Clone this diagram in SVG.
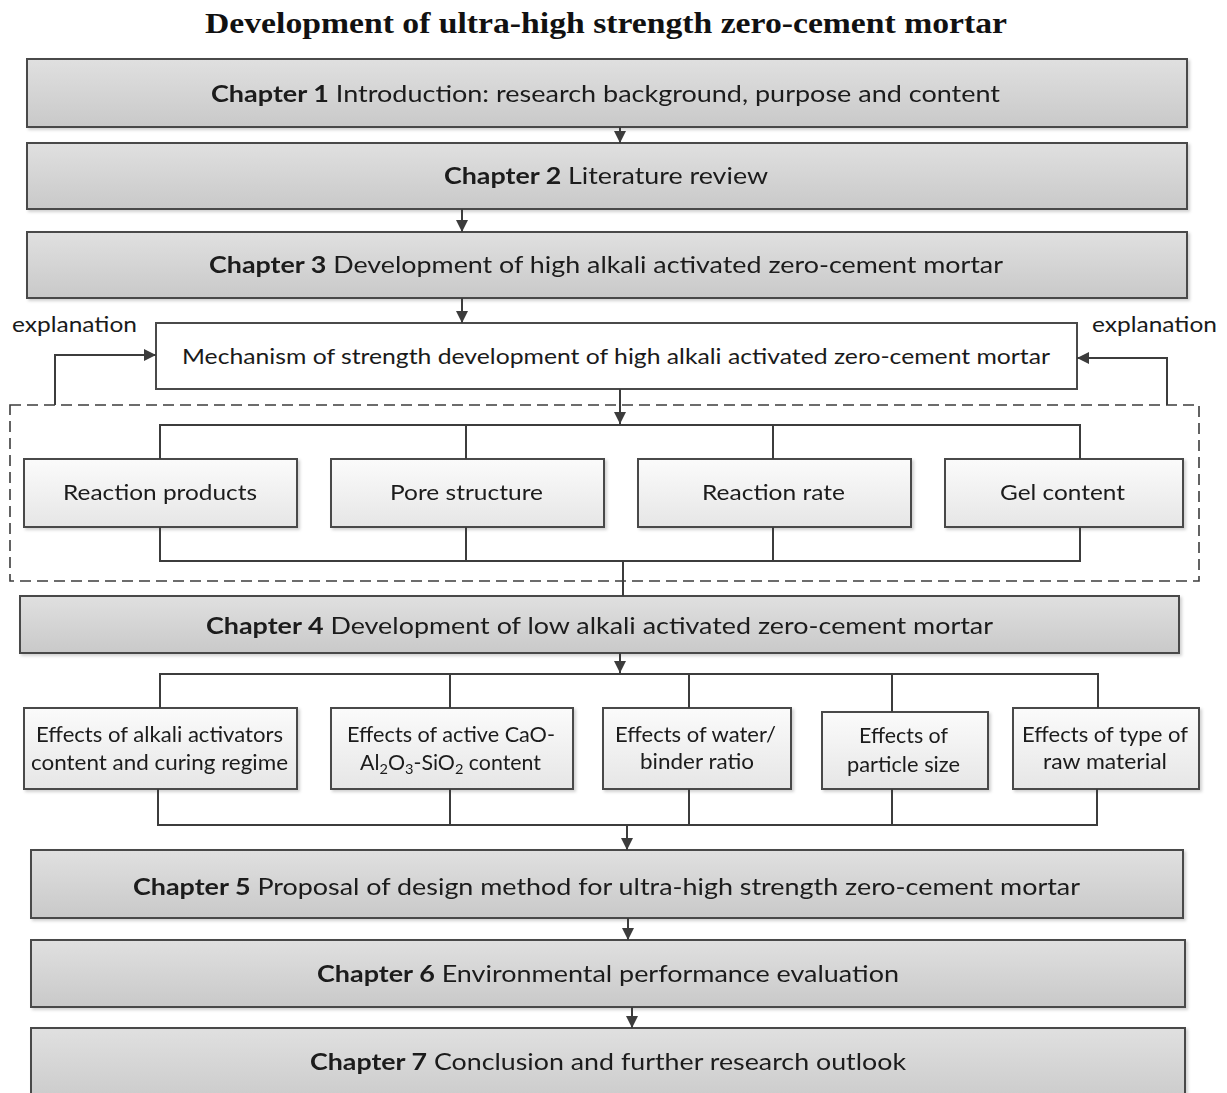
<svg xmlns="http://www.w3.org/2000/svg" width="1227" height="1093" viewBox="0 0 1227 1093">
<style>
.title{font-family:"Liberation Serif","Times New Roman",serif;font-weight:bold;font-size:29px;fill:#111}
.t{font-family:Lato,"Open Sans","Liberation Sans",sans-serif;fill:#1a1a1a}
.ch{font-size:23.5px}
.b{font-weight:bold}
.sm{font-size:20.5px}
.mid{font-size:22px}
.chap{fill:url(#gChap);stroke:#4a4a4a;stroke-width:2}
.box{fill:url(#gBox);stroke:#4a4a4a;stroke-width:2}
.white{fill:#fff;stroke:#4a4a4a;stroke-width:2}
.ln{fill:none;stroke:#3c3c3c;stroke-width:2}
.arr{fill:none;stroke:#3c3c3c;stroke-width:2;marker-end:url(#ah)}
.dash{fill:none;stroke:#3c3c3c;stroke-width:1.6;stroke-dasharray:11 6}
</style>
<defs>
<linearGradient id="gChap" x1="0" y1="0" x2="0" y2="1">
<stop offset="0" stop-color="#e0e0e0"/>
<stop offset="1" stop-color="#c9c9c9"/>
</linearGradient>
<linearGradient id="gBox" x1="0" y1="0" x2="0" y2="1">
<stop offset="0" stop-color="#fbfbfb"/>
<stop offset="1" stop-color="#e6e6e6"/>
</linearGradient>
<filter id="sh" x="-5%" y="-10%" width="110%" height="130%">
<feDropShadow dx="2" dy="2" stdDeviation="1.5" flood-color="#000" flood-opacity="0.18"/>
</filter>
<marker id="ah" viewBox="0 0 10 10" refX="10" refY="5" markerWidth="6" markerHeight="6" markerUnits="strokeWidth" orient="auto">
<path d="M0,0 L10,5 L0,10 z" fill="#3c3c3c"/>
</marker>
</defs>
<rect width="1227" height="1093" fill="#fff"/>

<text class="title" x="606" y="33" text-anchor="middle" textLength="802" lengthAdjust="spacingAndGlyphs">Development of ultra-high strength zero-cement mortar</text>

<g id="ch1" filter="url(#sh)">
<rect class="chap" x="27" y="59" width="1160" height="68"/>
<text class="t ch" x="605.5" y="102" text-anchor="middle" textLength="789" lengthAdjust="spacingAndGlyphs"><tspan class="b">Chapter 1</tspan> Introduction: research background, purpose and content</text>
</g>
<g id="ch2" filter="url(#sh)">
<rect class="chap" x="27" y="143" width="1160" height="66"/>
<text class="t ch" x="606" y="184" text-anchor="middle" textLength="324" lengthAdjust="spacingAndGlyphs"><tspan class="b">Chapter 2</tspan> Literature review</text>
</g>
<g id="ch3" filter="url(#sh)">
<rect class="chap" x="27" y="232" width="1160" height="66"/>
<text class="t ch" x="606" y="273" text-anchor="middle" textLength="794" lengthAdjust="spacingAndGlyphs"><tspan class="b">Chapter 3</tspan> Development of high alkali activated zero-cement mortar</text>
</g>
<g id="mechanism">
<rect class="white" x="156" y="323" width="921" height="66"/>
<text class="t mid" x="616" y="364" text-anchor="middle" textLength="868" lengthAdjust="spacingAndGlyphs">Mechanism of strength development of high alkali activated zero-cement mortar</text>
</g>
<g id="explanation-left">
<text class="t mid" x="12" y="332" textLength="125" lengthAdjust="spacingAndGlyphs">explanation</text>
</g>
<g id="explanation-right">
<text class="t mid" x="1092" y="332" textLength="125" lengthAdjust="spacingAndGlyphs">explanation</text>
</g>
<g id="mechanism-group">
<rect class="dash" x="10" y="405" width="1189" height="176"/>
</g>
<g id="reaction-products" filter="url(#sh)">
<rect class="box" x="24" y="459" width="273" height="68"/>
<text class="t mid" x="160" y="500" text-anchor="middle" textLength="194" lengthAdjust="spacingAndGlyphs">Reaction products</text>
</g>
<g id="pore-structure" filter="url(#sh)">
<rect class="box" x="331" y="459" width="273" height="68"/>
<text class="t mid" x="466.5" y="500" text-anchor="middle" textLength="153" lengthAdjust="spacingAndGlyphs">Pore structure</text>
</g>
<g id="reaction-rate" filter="url(#sh)">
<rect class="box" x="638" y="459" width="273" height="68"/>
<text class="t mid" x="773.5" y="500" text-anchor="middle" textLength="143" lengthAdjust="spacingAndGlyphs">Reaction rate</text>
</g>
<g id="gel-content" filter="url(#sh)">
<rect class="box" x="945" y="459" width="238" height="68"/>
<text class="t mid" x="1062.5" y="500" text-anchor="middle" textLength="125" lengthAdjust="spacingAndGlyphs">Gel content</text>
</g>
<g id="ch4" filter="url(#sh)">
<rect class="chap" x="20" y="596" width="1159" height="57"/>
<text class="t ch" x="599.5" y="634" text-anchor="middle" textLength="787" lengthAdjust="spacingAndGlyphs"><tspan class="b">Chapter 4</tspan> Development of low alkali activated zero-cement mortar</text>
</g>
<g id="effect-activators" filter="url(#sh)">
<rect class="box" x="24" y="708" width="273" height="81"/>
<text class="t sm" x="159.5" y="742" text-anchor="middle" textLength="247" lengthAdjust="spacingAndGlyphs">Effects of alkali activators</text>
<text class="t sm" x="159.5" y="770" text-anchor="middle" textLength="257" lengthAdjust="spacingAndGlyphs">content and curing regime</text>
</g>
<g id="effect-cao" filter="url(#sh)">
<rect class="box" x="331" y="708" width="242" height="81"/>
<text class="t sm" x="451" y="742" text-anchor="middle" textLength="208" lengthAdjust="spacingAndGlyphs">Effects of active CaO-</text>
<text class="t sm" x="450.5" y="770" text-anchor="middle" textLength="181" lengthAdjust="spacingAndGlyphs">Al<tspan font-size="14" dy="4">2</tspan><tspan dy="-4">O</tspan><tspan font-size="14" dy="4">3</tspan><tspan dy="-4">-SiO</tspan><tspan font-size="14" dy="4">2</tspan><tspan dy="-4"> content</tspan></text>
</g>
<g id="effect-wb" filter="url(#sh)">
<rect class="box" x="603" y="708" width="188" height="81"/>
<text class="t sm" x="695.5" y="742" text-anchor="middle" textLength="161" lengthAdjust="spacingAndGlyphs">Effects of water/</text>
<text class="t sm" x="697" y="769" text-anchor="middle" textLength="114" lengthAdjust="spacingAndGlyphs">binder ratio</text>
</g>
<g id="effect-particle" filter="url(#sh)">
<rect class="box" x="822" y="712" width="166" height="77"/>
<text class="t sm" x="903.5" y="743" text-anchor="middle" textLength="89" lengthAdjust="spacingAndGlyphs">Effects of</text>
<text class="t sm" x="903.5" y="772" text-anchor="middle" textLength="113" lengthAdjust="spacingAndGlyphs">particle size</text>
</g>
<g id="effect-raw" filter="url(#sh)">
<rect class="box" x="1013" y="708" width="186" height="81"/>
<text class="t sm" x="1105" y="742" text-anchor="middle" textLength="166" lengthAdjust="spacingAndGlyphs">Effects of type of</text>
<text class="t sm" x="1105" y="769" text-anchor="middle" textLength="124" lengthAdjust="spacingAndGlyphs">raw material</text>
</g>
<g id="ch5" filter="url(#sh)">
<rect class="chap" x="31" y="850" width="1152" height="68"/>
<text class="t ch" x="606.5" y="895" text-anchor="middle" textLength="947" lengthAdjust="spacingAndGlyphs"><tspan class="b">Chapter 5</tspan> Proposal of design method for ultra-high strength zero-cement mortar</text>
</g>
<g id="ch6" filter="url(#sh)">
<rect class="chap" x="31" y="940" width="1154" height="67"/>
<text class="t ch" x="608" y="982" text-anchor="middle" textLength="582" lengthAdjust="spacingAndGlyphs"><tspan class="b">Chapter 6</tspan> Environmental performance evaluation</text>
</g>
<g id="ch7" filter="url(#sh)">
<rect class="chap" x="31" y="1028" width="1154" height="80"/>
<text class="t ch" x="608" y="1070" text-anchor="middle" textLength="596" lengthAdjust="spacingAndGlyphs"><tspan class="b">Chapter 7</tspan> Conclusion and further research outlook</text>
</g>

<g id="connectors">
<line class="arr" x1="620" y1="127" x2="620" y2="143"/>
<line class="arr" x1="462" y1="209" x2="462" y2="232"/>
<line class="arr" x1="462" y1="298" x2="462" y2="323"/>
<polyline class="arr" points="55,405 55,355 156,355"/>
<polyline class="arr" points="1167,405 1167,358 1077,358"/>
<line class="arr" x1="620" y1="389" x2="620" y2="424"/>
<polyline class="ln" points="160,459 160,425 1080,425 1080,459"/>
<line class="ln" x1="466" y1="425" x2="466" y2="459"/>
<line class="ln" x1="773" y1="425" x2="773" y2="459"/>
<polyline class="ln" points="160,527 160,561 1080,561 1080,527"/>
<line class="ln" x1="466" y1="527" x2="466" y2="561"/>
<line class="ln" x1="773" y1="527" x2="773" y2="561"/>
<line class="ln" x1="623" y1="561" x2="623" y2="596"/>
<line class="arr" x1="620" y1="653" x2="620" y2="673"/>
<polyline class="ln" points="160,708 160,674 1098,674 1098,708"/>
<line class="ln" x1="450" y1="674" x2="450" y2="708"/>
<line class="ln" x1="689" y1="674" x2="689" y2="708"/>
<line class="ln" x1="892" y1="674" x2="892" y2="712"/>
<polyline class="ln" points="158,789 158,825 1097,825 1097,789"/>
<line class="ln" x1="450" y1="789" x2="450" y2="825"/>
<line class="ln" x1="689" y1="789" x2="689" y2="825"/>
<line class="ln" x1="892" y1="789" x2="892" y2="825"/>
<line class="arr" x1="627" y1="825" x2="627" y2="850"/>
<line class="arr" x1="628" y1="918" x2="628" y2="940"/>
<line class="arr" x1="632" y1="1007" x2="632" y2="1028"/>
</g>
</svg>
